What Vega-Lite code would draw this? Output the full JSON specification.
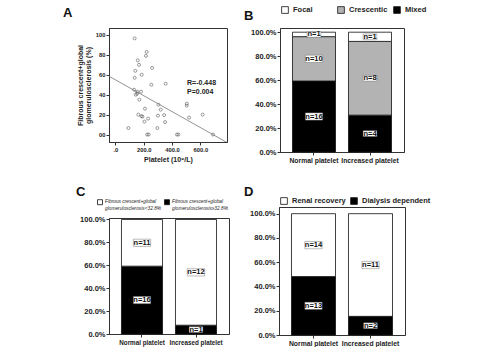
{
  "$schema": "https://vega.github.io/schema/vega-lite/v6.json",
  "padding": {"left": 62, "top": 5, "right": 0, "bottom": 0},
  "background": "white",
  "datasets": {
    "scatter": [
      {"platelet": 136, "fgs": 96.6}, {"platelet": 221, "fgs": 83}, {"platelet": 216, "fgs": 79},
      {"platelet": 158, "fgs": 74.5}, {"platelet": 167, "fgs": 70}, {"platelet": 259, "fgs": 67},
      {"platelet": 141, "fgs": 64}, {"platelet": 186, "fgs": 60}, {"platelet": 136, "fgs": 57},
      {"platelet": 254, "fgs": 50}, {"platelet": 355, "fgs": 51}, {"platelet": 132, "fgs": 45},
      {"platelet": 155, "fgs": 43}, {"platelet": 181, "fgs": 43}, {"platelet": 144, "fgs": 40},
      {"platelet": 153, "fgs": 41}, {"platelet": 169, "fgs": 35}, {"platelet": 304, "fgs": 30},
      {"platelet": 504, "fgs": 31}, {"platelet": 504, "fgs": 29}, {"platelet": 209, "fgs": 26},
      {"platelet": 320, "fgs": 25}, {"platelet": 162, "fgs": 20}, {"platelet": 184, "fgs": 18.5},
      {"platelet": 191, "fgs": 18}, {"platelet": 301, "fgs": 19}, {"platelet": 344, "fgs": 19.5},
      {"platelet": 616, "fgs": 20}, {"platelet": 520, "fgs": 17}, {"platelet": 231, "fgs": 16},
      {"platelet": 205, "fgs": 13}, {"platelet": 351, "fgs": 12.5}, {"platelet": 92, "fgs": 6.5},
      {"platelet": 296, "fgs": 6.5}, {"platelet": 224, "fgs": 0}, {"platelet": 235, "fgs": 0},
      {"platelet": 435, "fgs": 0}, {"platelet": 445, "fgs": 0}, {"platelet": 689, "fgs": 0}
    ],
    "fit": [{"platelet": -45, "fgs": 58.6}, {"platelet": 788, "fgs": -8}],
    "stat": [{"platelet": 506, "fgs": 52, "label": "R=-0.448"}, {"platelet": 506, "fgs": 43, "label": "P=0.004"}],
    "b": [
      {"group": "Normal platelet", "type": "Mixed", "n": 16, "ord": 1},
      {"group": "Normal platelet", "type": "Crescentic", "n": 10, "ord": 2},
      {"group": "Normal platelet", "type": "Focal", "n": 1, "ord": 3},
      {"group": "Increased platelet", "type": "Mixed", "n": 4, "ord": 1},
      {"group": "Increased platelet", "type": "Crescentic", "n": 8, "ord": 2},
      {"group": "Increased platelet", "type": "Focal", "n": 1, "ord": 3}
    ],
    "c": [
      {"group": "Normal platelet", "type": "Fibrous crescent+global glomerulosclerosis≥32.8%", "n": 16, "ord": 1},
      {"group": "Normal platelet", "type": "Fibrous crescent+global glomerulosclerosis<32.8%", "n": 11, "ord": 2},
      {"group": "Increased platelet", "type": "Fibrous crescent+global glomerulosclerosis≥32.8%", "n": 1, "ord": 1},
      {"group": "Increased platelet", "type": "Fibrous crescent+global glomerulosclerosis<32.8%", "n": 12, "ord": 2}
    ],
    "d": [
      {"group": "Normal platelet", "type": "Dialysis dependent", "n": 13, "ord": 1},
      {"group": "Normal platelet", "type": "Renal recovery", "n": 14, "ord": 2},
      {"group": "Increased platelet", "type": "Dialysis dependent", "n": 2, "ord": 1},
      {"group": "Increased platelet", "type": "Renal recovery", "n": 11, "ord": 2}
    ]
  },
  "config": {
    "font": "Liberation Sans",
    "view": {"stroke": "#333", "strokeWidth": 1},
    "axis": {"grid": false, "labelFont": "Liberation Sans", "labelFontWeight": "bold", "labelFontSize": 7.5, "labelColor": "#222", "tickColor": "#333", "domainColor": "#333", "tickSize": 3, "titleFont": "Liberation Sans", "titleFontSize": 8, "titleFontWeight": "bold", "titleColor": "#222", "labelPadding": 1, "labelOverlap": false, "labelBound": false},
    "legend": {"labelFont": "Liberation Sans", "labelFontSize": 7.5, "labelFontWeight": "bold", "labelColor": "#222", "symbolType": "square", "symbolStrokeColor": "#111", "symbolStrokeWidth": 0.8, "symbolSize": 45, "title": null},
    "title": {"font": "Liberation Sans", "fontSize": 13, "fontWeight": "bold", "anchor": "start", "frame": "group", "color": "#111"}
  },
  "concat": [
    {
      "width": 118, "height": 114,
      "title": {"text": "A", "dx": -46, "offset": 8},
      "layer": [
        {
          "data": {"name": "scatter"},
          "mark": {"type": "point", "shape": "circle", "size": 9, "stroke": "#333", "strokeWidth": 0.7, "filled": false},
          "encoding": {
            "x": {"field": "platelet", "type": "quantitative", "scale": {"domain": [-45, 788], "nice": false, "zero": false},
                  "axis": {"values": [0, 200, 400, 600], "tickCount": 20, "title": "Platelet (10⁹/L)", "labelExpr": "datum.value == 0 ? '.0' : format(datum.value, '.1f')", "titlePadding": 4, "labelFontSize": 5.8, "titleFontSize": 7}},
            "y": {"field": "fgs", "type": "quantitative", "scale": {"domain": [-7.5, 107], "nice": false, "zero": false},
                  "axis": {"values": [0, 20, 40, 60, 80, 100], "tickCount": 20, "labelExpr": "datum.value == 0 ? '00' : datum.label", "title": ["Fibrous crescent+global", "glomerulosclerosis (%)"], "titlePadding": 4, "titleLineHeight": 7.5, "titleFontSize": 7, "labelFontSize": 5.8}}
          }
        },
        {
          "data": {"name": "fit"},
          "mark": {"type": "line", "color": "#777", "strokeWidth": 0.8, "clip": true},
          "encoding": {
            "x": {"field": "platelet", "type": "quantitative"},
            "y": {"field": "fgs", "type": "quantitative"}
          }
        },
        {
          "data": {"name": "stat"},
          "mark": {"type": "text", "align": "left", "baseline": "middle", "fontWeight": "bold", "fontSize": 7, "color": "#222"},
          "encoding": {
            "x": {"field": "platelet", "type": "quantitative"},
            "y": {"field": "fgs", "type": "quantitative"},
            "text": {"field": "label"}
          }
        }
      ]
    },
    {
      "width": 124, "height": 124,
      "title": {"text": "B", "dx": -36, "offset": -17},
      "data": {"name": "b"},
      "transform": [
        {"stack": "n", "groupby": ["group"], "offset": "normalize", "sort": [{"field": "ord"}], "as": ["y0", "y1"]},
        {"calculate": "(datum.y0 + datum.y1) / 2", "as": "ym"},
        {"calculate": "'n=' + datum.n", "as": "lab"}
      ],
      "encoding": {
        "x": {"field": "group", "type": "nominal", "sort": ["Normal platelet", "Increased platelet"], "scale": {"paddingInner": 0.232, "paddingOuter": 0.223},
              "axis": {"title": null, "labelAngle": 0, "labelFontSize": 6.8, "labelPadding": 2}}
      },
      "layer": [
        {
          "mark": {"type": "bar", "stroke": "#111", "strokeWidth": 0.8},
          "encoding": {
            "y": {"field": "y0", "type": "quantitative", "scale": {"domain": [0, 1.035], "nice": false},
                  "axis": {"values": [0, 0.2, 0.4, 0.6, 0.8, 1], "tickCount": 20, "format": ".1%", "title": null}},
            "y2": {"field": "y1"},
            "fill": {"field": "type", "type": "nominal", "scale": {"domain": ["Focal", "Crescentic", "Mixed"], "range": ["white", "#b3b3b3", "black"]},
                     "legend": {"orient": "none", "legendX": 1, "legendY": -22, "direction": "horizontal", "columns": 3, "gridAlign": "all", "columnPadding": 4}}
          }
        },
        {
          "mark": {"type": "point", "shape": "M-1,-0.42H1V0.42H-1Z", "filled": true, "fill": "white", "stroke": "#555", "strokeWidth": 0.4, "opacity": 1},
          "encoding": {
            "y": {"field": "ym", "type": "quantitative"},
            "size": {"condition": {"test": "length(datum.lab) > 3", "value": 300}, "value": 190}
          }
        },
        {
          "mark": {"type": "text", "fontWeight": "bold", "fontSize": 7.5, "color": "#111", "baseline": "middle"},
          "encoding": {
            "y": {"field": "ym", "type": "quantitative"},
            "text": {"field": "lab"}
          }
        }
      ]
    },
    {
      "width": 120, "height": 116,
      "title": {"text": "C", "dx": -33, "offset": 0},
      "data": {"name": "c"},
      "transform": [
        {"stack": "n", "groupby": ["group"], "offset": "normalize", "sort": [{"field": "ord"}], "as": ["y0", "y1"]},
        {"calculate": "(datum.y0 + datum.y1) / 2", "as": "ym"},
        {"calculate": "'n=' + datum.n", "as": "lab"}
      ],
      "encoding": {
        "x": {"field": "group", "type": "nominal", "sort": ["Normal platelet", "Increased platelet"], "scale": {"paddingInner": 0.24, "paddingOuter": 0.231},
              "axis": {"title": null, "labelAngle": 0, "labelFontSize": 6.3, "labelPadding": 2}}
      },
      "layer": [
        {
          "mark": {"type": "bar", "stroke": "#111", "strokeWidth": 0.8},
          "encoding": {
            "y": {"field": "y0", "type": "quantitative", "scale": {"domain": [0, 1.013], "nice": false},
                  "axis": {"values": [0, 0.2, 0.4, 0.6, 0.8, 1], "tickCount": 20, "format": ".1%", "title": null}},
            "y2": {"field": "y1"},
            "fill": {"field": "type", "type": "nominal",
                     "scale": {"domain": ["Fibrous crescent+global glomerulosclerosis<32.8%", "Fibrous crescent+global glomerulosclerosis≥32.8%"], "range": ["white", "black"]},
                     "legend": {"orient": "none", "legendX": -12, "legendY": -19, "direction": "horizontal", "columnPadding": 0, "labelFontSize": 4.8, "labelFontWeight": "normal", "labelFontStyle": "italic", "symbolSize": 25, "labelOffset": 2,
                                "labelExpr": "[substring(datum.label, 0, 23), substring(datum.label, 24)]"}}
          }
        },
        {
          "mark": {"type": "point", "shape": "M-1,-0.42H1V0.42H-1Z", "filled": true, "fill": "white", "stroke": "#555", "strokeWidth": 0.4, "opacity": 1},
          "encoding": {
            "y": {"field": "ym", "type": "quantitative"},
            "size": {"condition": {"test": "length(datum.lab) > 3", "value": 300}, "value": 190}
          }
        },
        {
          "mark": {"type": "text", "fontWeight": "bold", "fontSize": 7.5, "color": "#111", "baseline": "middle"},
          "encoding": {
            "y": {"field": "ym", "type": "quantitative"},
            "text": {"field": "lab"}
          }
        }
      ]
    },
    {
      "width": 126, "height": 128,
      "title": {"text": "D", "dx": -35, "offset": -2},
      "data": {"name": "d"},
      "transform": [
        {"stack": "n", "groupby": ["group"], "offset": "normalize", "sort": [{"field": "ord"}], "as": ["y0", "y1"]},
        {"calculate": "(datum.y0 + datum.y1) / 2", "as": "ym"},
        {"calculate": "'n=' + datum.n", "as": "lab"}
      ],
      "encoding": {
        "x": {"field": "group", "type": "nominal", "sort": ["Normal platelet", "Increased platelet"], "scale": {"paddingInner": 0.228, "paddingOuter": 0.219},
              "axis": {"title": null, "labelAngle": 0, "labelFontSize": 6.8, "labelPadding": 2}}
      },
      "layer": [
        {
          "mark": {"type": "bar", "stroke": "#111", "strokeWidth": 0.8},
          "encoding": {
            "y": {"field": "y0", "type": "quantitative", "scale": {"domain": [0, 1.055], "nice": false},
                  "axis": {"values": [0, 0.2, 0.4, 0.6, 0.8, 1], "tickCount": 20, "format": ".1%", "title": null}},
            "y2": {"field": "y1"},
            "fill": {"field": "type", "type": "nominal", "scale": {"domain": ["Renal recovery", "Dialysis dependent"], "range": ["white", "black"]},
                     "legend": {"orient": "none", "legendX": 1, "legendY": -10, "direction": "horizontal", "columnPadding": 3}}
          }
        },
        {
          "mark": {"type": "point", "shape": "M-1,-0.42H1V0.42H-1Z", "filled": true, "fill": "white", "stroke": "#555", "strokeWidth": 0.4, "opacity": 1},
          "encoding": {
            "y": {"field": "ym", "type": "quantitative"},
            "size": {"condition": {"test": "length(datum.lab) > 3", "value": 300}, "value": 190}
          }
        },
        {
          "mark": {"type": "text", "fontWeight": "bold", "fontSize": 7.5, "color": "#111", "baseline": "middle"},
          "encoding": {
            "y": {"field": "ym", "type": "quantitative"},
            "text": {"field": "lab"}
          }
        }
      ]
    }
  ],
  "columns": 2,
  "align": "none",
  "spacing": {"row": 20, "column": 13},
  "resolve": {"scale": {"fill": "independent", "y": "independent", "x": "independent"}}
}
